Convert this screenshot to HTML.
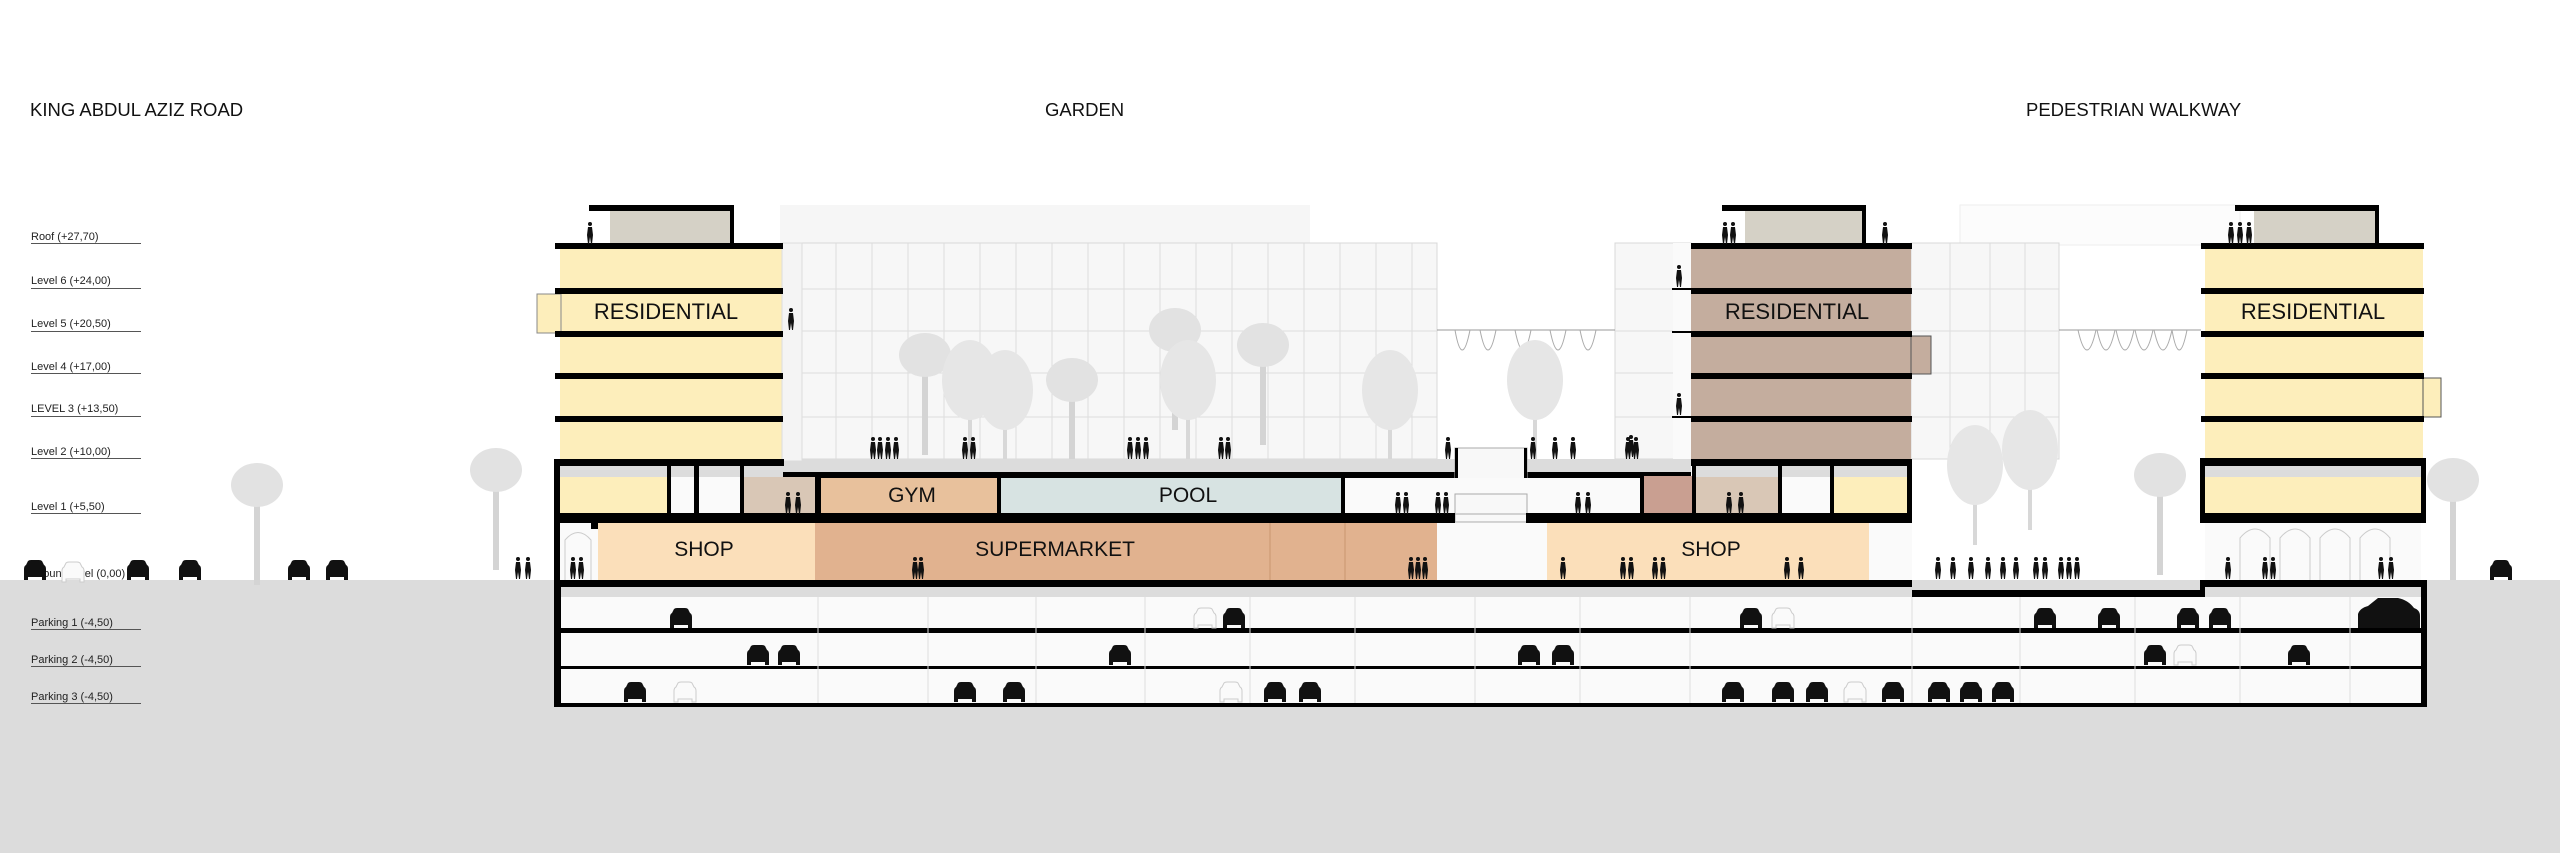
<!DOCTYPE html>
<html><head><meta charset="utf-8"><style>
html,body{margin:0;padding:0;background:#fff;}
svg{display:block;}
text{font-family:"Liberation Sans",sans-serif;}
</style></head><body>
<svg width="2560" height="853" viewBox="0 0 2560 853" xmlns="http://www.w3.org/2000/svg">
<defs>
<g id="car"><path d="M2 20 V9 Q2 6 4 5 L6 1 Q7 0 9 0 H17 Q19 0 20 1 L22 5 Q24 6 24 9 V20 H20 V17 H6 V20 Z" fill="#111"/></g>
<g id="carf"><path d="M2 20 V9 Q2 6 4 5 L6 1 Q7 0 9 0 H17 Q19 0 20 1 L22 5 Q24 6 24 9 V20 H20 V17 H6 V20 Z" fill="#fafafa" stroke="#ccc"/></g>
<g id="p"><circle cx="3" cy="2" r="2" fill="#111"/><path d="M1 5 H5 L6 13 L5 22 H4 L3 15 L2 22 H1 L0 13 Z" fill="#111"/></g>
<g id="palm"><rect x="-3" y="0" width="6" height="100" fill="#d4d4d4"/><ellipse cx="0" cy="0" rx="26" ry="22" fill="#e2e2e2"/></g>
<g id="tree"><rect x="-2" y="0" width="4" height="90" fill="#d8d8d8"/><ellipse cx="0" cy="10" rx="28" ry="40" fill="#e6e6e6"/></g>
</defs>

<!-- top labels -->
<text x="30" y="116" font-size="18.5" fill="#111">KING ABDUL AZIZ ROAD</text>
<text x="1045" y="116" font-size="18.5" fill="#111">GARDEN</text>
<text x="2026" y="116" font-size="18.5" fill="#111">PEDESTRIAN WALKWAY</text>

<!-- ground -->
<rect x="0" y="580" width="2560" height="273" fill="#dcdcdc"/>

<!-- level labels -->
<g font-size="11" fill="#222">
<text x="31" y="240">Roof (+27,70)</text><rect x="31" y="243" width="110" height="1" fill="#555"/>
<text x="31" y="284">Level 6 (+24,00)</text><rect x="31" y="288" width="110" height="1" fill="#555"/>
<text x="31" y="327">Level 5 (+20,50)</text><rect x="31" y="331" width="110" height="1" fill="#555"/>
<text x="31" y="370">Level 4 (+17,00)</text><rect x="31" y="373" width="110" height="1" fill="#555"/>
<text x="31" y="412">LEVEL 3 (+13,50)</text><rect x="31" y="416" width="110" height="1" fill="#555"/>
<text x="31" y="455">Level 2 (+10,00)</text><rect x="31" y="458" width="110" height="1" fill="#555"/>
<text x="31" y="510">Level 1 (+5,50)</text><rect x="31" y="513" width="110" height="1" fill="#555"/>
<text x="31" y="577">Ground level (0,00)</text>
<text x="31" y="626">Parking 1 (-4,50)</text><rect x="31" y="629" width="110" height="1" fill="#555"/>
<text x="31" y="663">Parking 2 (-4,50)</text><rect x="31" y="666" width="110" height="1" fill="#555"/>
<text x="31" y="700">Parking 3 (-4,50)</text><rect x="31" y="703" width="110" height="1" fill="#555"/>
</g>

<!-- background faint buildings -->
<rect x="780" y="205" width="530" height="40" fill="#f6f6f6"/>
<rect x="1960" y="205" width="280" height="40" fill="#fcfcfc" stroke="#eee"/>
<g stroke="#d8d8d8" stroke-width="1" fill="#f7f7f7">
<rect x="800" y="243" width="637" height="216"/>
<rect x="1615" y="243" width="76" height="216"/>
<rect x="1911" y="243" width="148" height="216"/>
</g>
<g stroke="#dddddd" stroke-width="1">
<line x1="800" y1="289" x2="1437" y2="289"/><line x1="800" y1="331" x2="1437" y2="331"/><line x1="800" y1="373" x2="1437" y2="373"/><line x1="800" y1="417" x2="1437" y2="417"/>
<line x1="836" y1="243" x2="836" y2="459"/><line x1="872" y1="243" x2="872" y2="459"/><line x1="908" y1="243" x2="908" y2="459"/><line x1="944" y1="243" x2="944" y2="459"/><line x1="980" y1="243" x2="980" y2="459"/><line x1="1016" y1="243" x2="1016" y2="459"/><line x1="1052" y1="243" x2="1052" y2="459"/><line x1="1088" y1="243" x2="1088" y2="459"/><line x1="1124" y1="243" x2="1124" y2="459"/><line x1="1160" y1="243" x2="1160" y2="459"/><line x1="1196" y1="243" x2="1196" y2="459"/><line x1="1232" y1="243" x2="1232" y2="459"/><line x1="1268" y1="243" x2="1268" y2="459"/><line x1="1304" y1="243" x2="1304" y2="459"/><line x1="1340" y1="243" x2="1340" y2="459"/><line x1="1376" y1="243" x2="1376" y2="459"/><line x1="1412" y1="243" x2="1412" y2="459"/>
<line x1="1911" y1="289" x2="2059" y2="289"/><line x1="1911" y1="331" x2="2059" y2="331"/><line x1="1911" y1="373" x2="2059" y2="373"/><line x1="1911" y1="417" x2="2059" y2="417"/>
<line x1="1950" y1="243" x2="1950" y2="459"/><line x1="1990" y1="243" x2="1990" y2="459"/><line x1="2025" y1="243" x2="2025" y2="459"/>
<line x1="1615" y1="289" x2="1691" y2="289"/><line x1="1615" y1="331" x2="1691" y2="331"/><line x1="1615" y1="373" x2="1691" y2="373"/><line x1="1615" y1="417" x2="1691" y2="417"/>
<line x1="1437" y1="330" x2="1615" y2="330" stroke="#999"/>
<line x1="2059" y1="330" x2="2201" y2="330" stroke="#999"/>
</g>
<g fill="none" stroke="#aaa" stroke-width="1">
<path d="M1455 330 Q1462 370 1470 330 M1480 330 Q1488 370 1496 330 M1515 330 Q1523 370 1531 330 M1550 330 Q1558 370 1566 330 M1580 330 Q1588 370 1596 330"/>
<path d="M2078 330 Q2087 370 2096 330 M2097 330 Q2106 370 2115 330 M2116 330 Q2125 370 2134 330 M2135 330 Q2144 370 2153 330 M2154 330 Q2163 370 2172 330 M2172 330 Q2179 370 2187 330"/>
</g>

<!-- garden trees -->
<use href="#palm" x="925" y="355"/>
<use href="#tree" x="970" y="370"/>
<use href="#tree" x="1005" y="380"/>
<use href="#palm" x="1072" y="380"/>
<use href="#palm" x="1175" y="330"/>
<use href="#tree" x="1188" y="370"/>
<use href="#palm" x="1263" y="345"/>
<use href="#tree" x="1390" y="380"/>
<use href="#tree" x="1535" y="370"/>
<use href="#tree" x="1975" y="455"/>
<use href="#tree" x="2030" y="440"/>
<use href="#palm" x="2160" y="475"/>
<use href="#palm" x="2453" y="480"/>
<use href="#palm" x="257" y="485"/>
<use href="#palm" x="496" y="470"/>

<!-- garden deck -->
<rect x="783" y="459" width="672" height="13" fill="#dcdcdc"/>
<rect x="783" y="472" width="672" height="6" fill="#000"/>
<rect x="1526" y="459" width="165" height="13" fill="#dcdcdc"/>
<rect x="1526" y="472" width="165" height="6" fill="#000"/>
<rect x="1455" y="448" width="72" height="74" fill="#f8f8f8" stroke="#aaa"/>
<rect x="1455" y="448" width="3" height="30" fill="#000"/><rect x="1524" y="448" width="3" height="30" fill="#000"/>

<!-- LEFT TOWER -->
<rect x="589" y="205" width="144" height="6" fill="#000"/>
<rect x="610" y="211" width="120" height="33" fill="#d5d1c6"/>
<rect x="730" y="205" width="4" height="40" fill="#000"/>
<rect x="560" y="243" width="222" height="218" fill="#fdeebb"/>
<rect x="537" y="294" width="24" height="39" fill="#fdeebb" stroke="#888" stroke-width="1"/>
<rect x="782" y="243" width="20" height="218" fill="#f4f4f4" stroke="#ddd"/>
<g fill="#000">
<rect x="555" y="243" width="228" height="6"/><rect x="555" y="288" width="228" height="6"/><rect x="555" y="331" width="228" height="6"/><rect x="555" y="373" width="228" height="6"/><rect x="555" y="416" width="228" height="6"/>
<rect x="554" y="459" width="230" height="7"/>
<rect x="554" y="459" width="6" height="127"/>
</g>
<rect x="560" y="466" width="223" height="11" fill="#dcdcdc"/>
<rect x="560" y="477" width="107" height="37" fill="#fdeebb"/>
<rect x="671" y="477" width="23" height="37" fill="#fafafa"/>
<rect x="699" y="477" width="41" height="37" fill="#fafafa"/>
<rect x="744" y="477" width="71" height="37" fill="#d9c7b6"/>
<g fill="#000"><rect x="667" y="466" width="4" height="48"/><rect x="694" y="466" width="5" height="48"/><rect x="740" y="466" width="4" height="48"/><rect x="815" y="472" width="6" height="42"/></g>
<text x="666" y="319" font-size="22" text-anchor="middle" fill="#111">RESIDENTIAL</text>

<!-- LEVEL 1 podium -->
<rect x="821" y="478" width="176" height="36" fill="#e8c19c"/>
<rect x="997" y="478" width="4" height="36" fill="#000"/>
<rect x="1001" y="478" width="340" height="36" fill="#d7e3e2"/>
<rect x="1341" y="478" width="4" height="36" fill="#000"/>
<rect x="1345" y="478" width="296" height="36" fill="#fafafa"/>
<rect x="1640" y="476" width="4" height="38" fill="#000"/>
<rect x="1644" y="476" width="48" height="38" fill="#c99f91"/>
<rect x="1692" y="466" width="4" height="48" fill="#000"/>
<rect x="1455" y="494" width="72" height="20" fill="#f8f8f8" stroke="#aaa"/>
<text x="912" y="502" font-size="21" text-anchor="middle" fill="#111">GYM</text>
<text x="1188" y="502" font-size="21" text-anchor="middle" fill="#111">POOL</text>

<!-- MID TOWER -->
<rect x="1722" y="205" width="144" height="6" fill="#000"/>
<rect x="1745" y="211" width="118" height="33" fill="#d5d1c6"/>
<rect x="1862" y="205" width="4" height="40" fill="#000"/>
<rect x="1691" y="243" width="220" height="218" fill="#c4ad9e"/>
<rect x="1911" y="336" width="20" height="38" fill="#c4ad9e" stroke="#555" stroke-width="1"/>
<rect x="1673" y="243" width="18" height="216" fill="#fafafa"/>
<g fill="#000">
<rect x="1691" y="243" width="221" height="6"/><rect x="1691" y="288" width="221" height="6"/><rect x="1691" y="331" width="221" height="6"/><rect x="1691" y="373" width="221" height="6"/><rect x="1691" y="416" width="221" height="6"/>
<rect x="1672" y="288" width="20" height="2"/><rect x="1672" y="331" width="20" height="2"/><rect x="1672" y="416" width="20" height="2"/>
<rect x="1691" y="459" width="221" height="7"/><rect x="1907" y="459" width="5" height="64"/>
</g>
<rect x="1696" y="466" width="211" height="11" fill="#dcdcdc"/>
<rect x="1696" y="477" width="82" height="37" fill="#d9c7b6"/>
<rect x="1782" y="477" width="48" height="37" fill="#fafafa"/>
<rect x="1834" y="477" width="73" height="37" fill="#fdeebb"/>
<g fill="#000"><rect x="1778" y="466" width="4" height="48"/><rect x="1830" y="466" width="4" height="48"/></g>
<text x="1797" y="319" font-size="22" text-anchor="middle" fill="#111">RESIDENTIAL</text>

<!-- RIGHT TOWER -->
<rect x="2235" y="205" width="144" height="6" fill="#000"/>
<rect x="2254" y="211" width="121" height="33" fill="#d5d1c6"/>
<rect x="2375" y="205" width="4" height="40" fill="#000"/>
<rect x="2205" y="243" width="218" height="218" fill="#fdeebb"/>
<rect x="2423" y="378" width="18" height="39" fill="#fdeebb" stroke="#555" stroke-width="1"/>
<g fill="#000">
<rect x="2201" y="243" width="223" height="6"/><rect x="2201" y="288" width="223" height="6"/><rect x="2201" y="331" width="223" height="6"/><rect x="2201" y="373" width="223" height="6"/><rect x="2201" y="416" width="223" height="6"/>
<rect x="2200" y="458" width="226" height="8"/>
<rect x="2200" y="458" width="5" height="65"/><rect x="2421" y="458" width="5" height="65"/>
<rect x="2200" y="513" width="226" height="10"/>
</g>
<rect x="2205" y="466" width="216" height="11" fill="#dcdcdc"/>
<rect x="2205" y="477" width="216" height="36" fill="#fdeebb"/>
<text x="2313" y="319" font-size="22" text-anchor="middle" fill="#111">RESIDENTIAL</text>
<rect x="2205" y="523" width="216" height="57" fill="#fafafa"/>
<g fill="none" stroke="#ccc"><path d="M2240 580 V538 Q2255 520 2270 538 V580 M2280 580 V538 Q2295 520 2310 538 V580 M2320 580 V538 Q2335 520 2350 538 V580 M2360 580 V538 Q2375 520 2390 538 V580"/></g>

<!-- slab level1/ground -->
<rect x="554" y="513" width="901" height="10" fill="#000"/>
<rect x="1526" y="513" width="386" height="10" fill="#000"/>

<!-- GROUND FLOOR -->
<rect x="560" y="523" width="38" height="57" fill="#fafafa"/>
<path d="M565 580 V540 Q578 525 591 540 V580" fill="none" stroke="#ccc"/>
<rect x="591" y="523" width="7" height="6" fill="#000"/>
<rect x="598" y="523" width="217" height="57" fill="#fbdfba"/>
<rect x="815" y="523" width="622" height="57" fill="#e1b28f"/>
<line x1="1270" y1="523" x2="1270" y2="580" stroke="#c9966f"/>
<line x1="1345" y1="523" x2="1345" y2="580" stroke="#c9966f"/>
<rect x="1437" y="523" width="110" height="57" fill="#fafafa"/>
<rect x="1547" y="523" width="322" height="57" fill="#fbdfba"/>
<rect x="1869" y="523" width="43" height="57" fill="#fafafa"/>
<text x="704" y="556" font-size="21" text-anchor="middle" fill="#111">SHOP</text>
<text x="1055" y="556" font-size="21" text-anchor="middle" fill="#111">SUPERMARKET</text>
<text x="1711" y="556" font-size="21" text-anchor="middle" fill="#111">SHOP</text>

<!-- PARKING -->
<rect x="554" y="580" width="1873" height="127" fill="#000"/>
<rect x="561" y="587" width="1352" height="10" fill="#dcdcdc"/>
<rect x="1912" y="580" width="288" height="10" fill="#dcdcdc"/>
<rect x="2205" y="587" width="216" height="10" fill="#dcdcdc"/>
<rect x="561" y="597" width="1860" height="31" fill="#fafafa"/>
<rect x="1912" y="590" width="293" height="7" fill="#000"/>
<rect x="561" y="633" width="1860" height="33" fill="#fafafa"/>
<rect x="561" y="669" width="1860" height="34" fill="#fafafa"/>
<g stroke="#ddd">
<line x1="818" y1="597" x2="818" y2="703"/><line x1="928" y1="597" x2="928" y2="703"/><line x1="1036" y1="597" x2="1036" y2="703"/><line x1="1145" y1="597" x2="1145" y2="703"/><line x1="1250" y1="597" x2="1250" y2="703"/><line x1="1355" y1="597" x2="1355" y2="703"/><line x1="1475" y1="597" x2="1475" y2="703"/><line x1="1580" y1="597" x2="1580" y2="703"/><line x1="1690" y1="597" x2="1690" y2="703"/><line x1="1912" y1="597" x2="1912" y2="703"/><line x1="2020" y1="597" x2="2020" y2="703"/><line x1="2135" y1="597" x2="2135" y2="703"/><line x1="2240" y1="597" x2="2240" y2="703"/><line x1="2350" y1="597" x2="2350" y2="703"/>
</g>

<!-- cars -->
<use href="#car" x="22" y="560"/><use href="#carf" x="60" y="562"/><use href="#car" x="125" y="560"/><use href="#car" x="177" y="560"/><use href="#car" x="286" y="560"/><use href="#car" x="324" y="560"/><use href="#car" x="2488" y="560"/>
<use href="#car" x="668" y="608"/><use href="#carf" x="1192" y="608"/><use href="#car" x="1221" y="608"/><use href="#car" x="1738" y="608"/><use href="#carf" x="1770" y="608"/><use href="#car" x="2032" y="608"/><use href="#car" x="2096" y="608"/><use href="#car" x="2175" y="608"/><use href="#car" x="2207" y="608"/>
<path d="M2358 628 V614 Q2360 608 2368 606 L2378 598 H2398 Q2408 600 2414 608 Q2420 610 2420 616 V628 Z" fill="#111"/>
<use href="#car" x="745" y="645"/><use href="#car" x="776" y="645"/><use href="#car" x="1107" y="645"/><use href="#car" x="1516" y="645"/><use href="#car" x="1550" y="645"/><use href="#car" x="2142" y="645"/><use href="#carf" x="2172" y="645"/><use href="#car" x="2286" y="645"/>
<use href="#car" x="622" y="682"/><use href="#carf" x="672" y="682"/><use href="#car" x="952" y="682"/><use href="#car" x="1001" y="682"/><use href="#carf" x="1218" y="682"/><use href="#car" x="1262" y="682"/><use href="#car" x="1297" y="682"/><use href="#car" x="1720" y="682"/><use href="#car" x="1770" y="682"/><use href="#car" x="1804" y="682"/><use href="#carf" x="1842" y="682"/><use href="#car" x="1880" y="682"/><use href="#car" x="1926" y="682"/><use href="#car" x="1958" y="682"/><use href="#car" x="1990" y="682"/>

<!-- people -->
<use href="#p" x="515" y="557"/><use href="#p" x="525" y="557"/><use href="#p" x="570" y="557"/><use href="#p" x="578" y="557"/>
<use href="#p" x="912" y="557"/><use href="#p" x="918" y="557"/>
<use href="#p" x="1408" y="557"/><use href="#p" x="1415" y="557"/><use href="#p" x="1422" y="557"/>
<use href="#p" x="1560" y="557"/><use href="#p" x="1620" y="557"/><use href="#p" x="1628" y="557"/><use href="#p" x="1652" y="557"/><use href="#p" x="1660" y="557"/><use href="#p" x="1784" y="557"/><use href="#p" x="1798" y="557"/>
<use href="#p" x="1935" y="557"/><use href="#p" x="1950" y="557"/><use href="#p" x="1968" y="557"/><use href="#p" x="1985" y="557"/><use href="#p" x="2000" y="557"/><use href="#p" x="2013" y="557"/><use href="#p" x="2033" y="557"/><use href="#p" x="2042" y="557"/><use href="#p" x="2058" y="557"/><use href="#p" x="2066" y="557"/><use href="#p" x="2074" y="557"/>
<use href="#p" x="2225" y="557"/><use href="#p" x="2262" y="557"/><use href="#p" x="2270" y="557"/><use href="#p" x="2378" y="557"/><use href="#p" x="2388" y="557"/>
<use href="#p" x="870" y="437"/><use href="#p" x="877" y="437"/><use href="#p" x="885" y="437"/><use href="#p" x="893" y="437"/><use href="#p" x="962" y="437"/><use href="#p" x="970" y="437"/><use href="#p" x="1127" y="437"/><use href="#p" x="1135" y="437"/><use href="#p" x="1143" y="437"/><use href="#p" x="1218" y="437"/><use href="#p" x="1225" y="437"/><use href="#p" x="1445" y="437"/><use href="#p" x="1530" y="437"/><use href="#p" x="1552" y="437"/><use href="#p" x="1570" y="437"/><use href="#p" x="1625" y="437"/><use href="#p" x="1633" y="437"/>
<use href="#p" x="1395" y="492"/><use href="#p" x="1403" y="492"/><use href="#p" x="1435" y="492"/><use href="#p" x="1443" y="492"/><use href="#p" x="1575" y="492"/><use href="#p" x="1585" y="492"/>
<use href="#p" x="785" y="492"/><use href="#p" x="795" y="492"/><use href="#p" x="1726" y="492"/><use href="#p" x="1738" y="492"/>
<use href="#p" x="587" y="222"/><use href="#p" x="1722" y="222"/><use href="#p" x="1730" y="222"/><use href="#p" x="1882" y="222"/><use href="#p" x="2228" y="222"/><use href="#p" x="2237" y="222"/><use href="#p" x="2246" y="222"/>
<use href="#p" x="788" y="308"/><use href="#p" x="1676" y="265"/><use href="#p" x="1676" y="393"/><use href="#p" x="1628" y="435"/>
</svg>
</body></html>
